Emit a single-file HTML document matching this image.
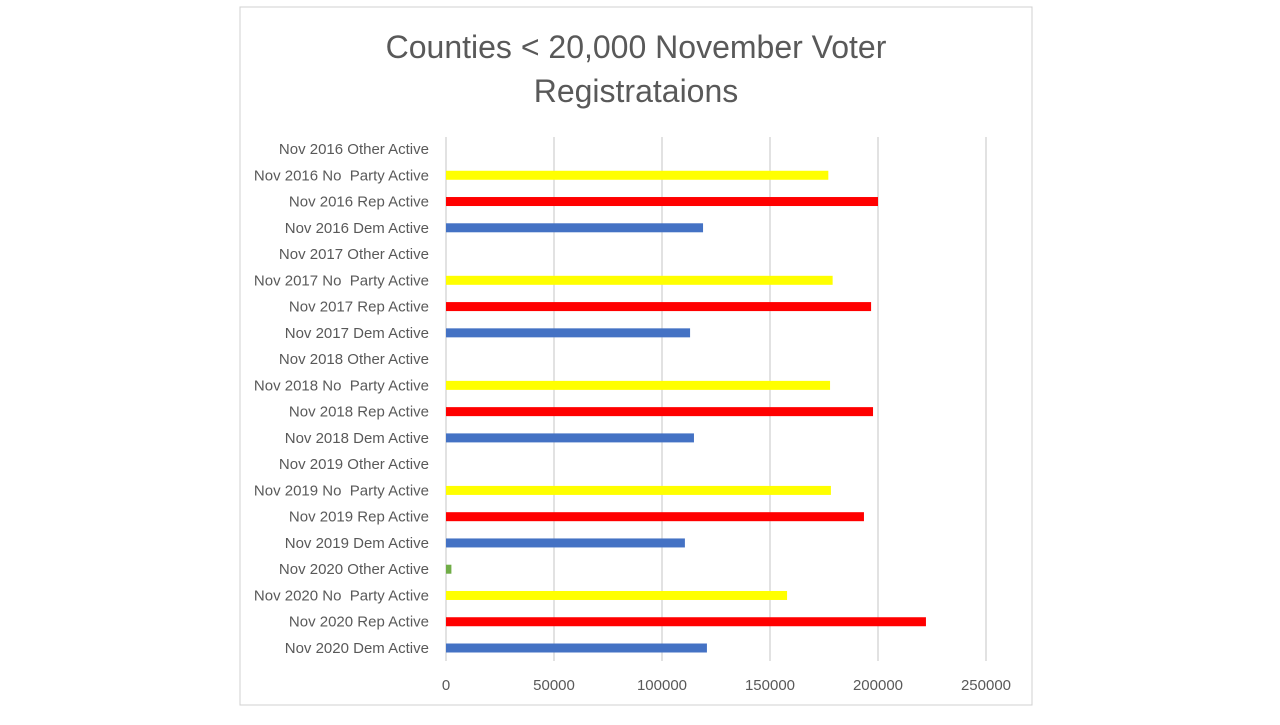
<!DOCTYPE html>
<html><head><meta charset="utf-8"><style>
body{margin:0;background:#fff;font-family:"Liberation Sans",sans-serif;}
text{white-space:pre;}
</style></head><body>
<svg width="1280" height="720" xmlns="http://www.w3.org/2000/svg">
<rect x="240" y="7" width="792" height="698" fill="#fff" stroke="#d0d0d0"/>
<text x="636" y="58" text-anchor="middle" font-size="32" fill="#595959">Counties &lt; 20,000 November Voter</text>
<text x="636" y="102" text-anchor="middle" font-size="32" fill="#595959">Registrataions</text>
<g id="grid"></g><g id="bars"></g><g id="labels"></g><g id="ticks"></g>
</svg>
<script>
const categories=["Nov 2016 Other Active","Nov 2016 No  Party Active","Nov 2016 Rep Active","Nov 2016 Dem Active","Nov 2017 Other Active","Nov 2017 No  Party Active","Nov 2017 Rep Active","Nov 2017 Dem Active","Nov 2018 Other Active","Nov 2018 No  Party Active","Nov 2018 Rep Active","Nov 2018 Dem Active","Nov 2019 Other Active","Nov 2019 No  Party Active","Nov 2019 Rep Active","Nov 2019 Dem Active","Nov 2020 Other Active","Nov 2020 No  Party Active","Nov 2020 Rep Active","Nov 2020 Dem Active"];
const values=[0,177000,200000,119000,0,179000,196800,113000,0,177800,197700,114800,0,178200,193500,110600,2500,157900,222200,120800];
const tickValues=[0,50000,100000,150000,200000,250000];
const colorsByType={Other:"#70ad47",No:"#ffff00",Rep:"#ff0000",Dem:"#4472c4"};
const NS="http://www.w3.org/2000/svg";
const x0=446,x1=986,xmax=250000;
const xs=v=>x0+(v/xmax)*(x1-x0);
const yTop=149,step=(648-149)/19;
const ys=i=>yTop+i*step;
function mk(tag,attrs,parent){const e=document.createElementNS(NS,tag);for(const k in attrs)e.setAttribute(k,attrs[k]);document.getElementById(parent).appendChild(e);return e;}
tickValues.forEach(t=>{
  const l=mk("line",{x1:xs(t),x2:xs(t),y1:137,y2:661,stroke:"#d9d9d9","stroke-width":1.5},"grid");
  
  
  const tx=mk("text",{x:xs(t),y:690,"text-anchor":"middle","font-size":15,fill:"#595959"},"ticks");
  tx.textContent=t;
  
  
});
categories.forEach((c,i)=>{
  const y=ys(i);
  const type=c.includes("Other")?"Other":c.includes("No ")?"No":c.includes("Rep")?"Rep":"Dem";
  if(values[i]>0){
    const r=mk("rect",{x:x0,y:y-4.5,width:xs(values[i])-x0,height:9,fill:colorsByType[type]},"bars");
    
    
  }
  const t=mk("text",{x:429,y:y+5,"text-anchor":"end","font-size":15,fill:"#595959"},"labels");
  t.textContent=c;
  
  
});
</script>
</body></html>
